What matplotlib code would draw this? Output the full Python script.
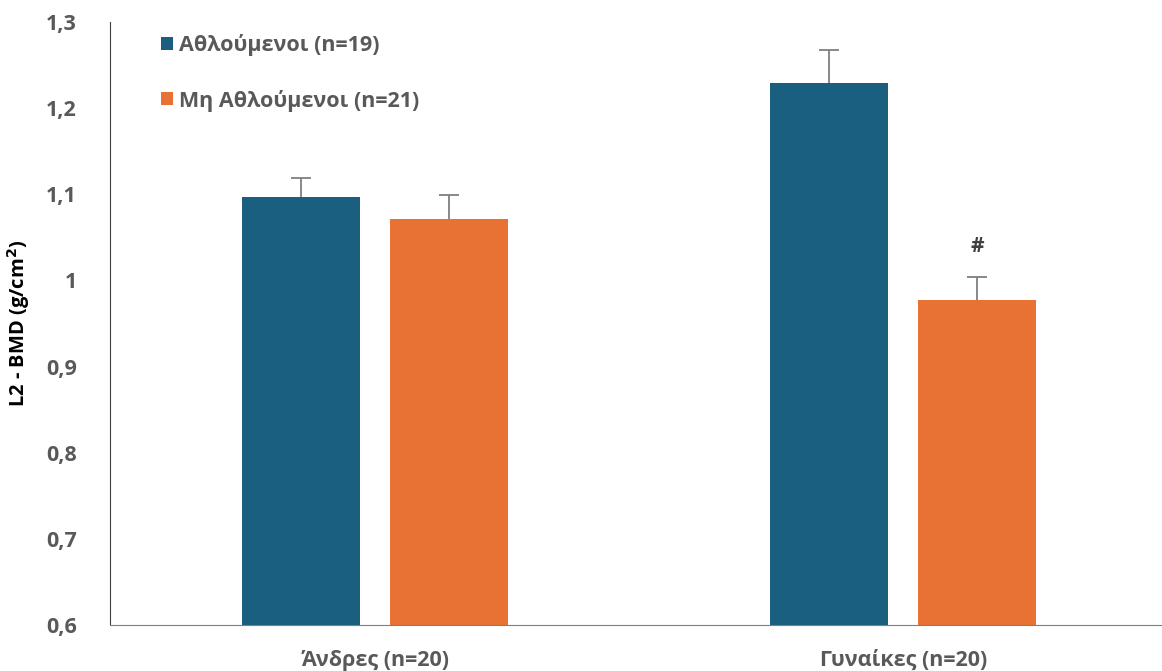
import matplotlib.pyplot as plt
import numpy as np

# BMD at L2, grouped by sex
categories = ["Άνδρες (n=20)", "Γυναίκες (n=20)"]
series_names = ["Αθλούμενοι (n=19)", "Μη Αθλούμενοι (n=21)"]
athletes = [1.097, 1.229]
athletes_err = [0.022, 0.038]
non_athletes = [1.071, 0.977]
non_athletes_err = [0.028, 0.027]
yticks = [0.6, 0.7, 0.8, 0.9, 1.0, 1.1, 1.2, 1.3]
ytick_labels = ["0,6", "0,7", "0,8", "0,9", "1", "1,1", "1,2", "1,3"]

blue = "#1a5e80"
orange = "#e87234"
text_grey = "#595959"
err_grey = "#7f7f7f"

plt.rcParams["font.family"] = ["Open Sans", "DejaVu Sans"]
plt.rcParams["font.weight"] = "bold"

fig = plt.figure(figsize=(11.62, 6.71), dpi=100)
ax = fig.add_axes([0.0947, 0.0686, 0.9053, 0.8986])

x = np.arange(len(categories))
w = 0.2235
off = 0.140


def bars_with_upper_err(xpos, vals, errs, color, label):
    ax.bar(xpos, vals, w, color=color, label=label, zorder=2)
    _, caps, _ = ax.errorbar(xpos, vals, yerr=[np.zeros(len(vals)), errs],
                             fmt="none", ecolor=err_grey, elinewidth=1.3,
                             capsize=7, capthick=1.3, zorder=3)
    # keep only the cap at the top of each whisker
    for c in caps:
        if np.allclose(c.get_ydata(), vals):
            c.set_visible(False)


bars_with_upper_err(x - off, athletes, athletes_err, blue, series_names[0])
bars_with_upper_err(x + off, non_athletes, non_athletes_err, orange, series_names[1])

# significance mark over the women's non-athlete bar
ax.text(x[1] + off, non_athletes[1] + non_athletes_err[1] + 0.035, "#",
        ha="center", va="center", fontsize=15, color="#404040")

ax.set_xlim(-0.502, 1.49)
ax.set_ylim(0.6, 1.3)
ax.set_xticks(x)
ax.set_xticklabels(categories, fontsize=15.5, color=text_grey)
ax.set_yticks(yticks)
ax.set_yticklabels(ytick_labels, fontsize=15.5, color=text_grey)
ax.tick_params(axis="x", length=0, pad=18)
ax.tick_params(axis="y", length=0, pad=24)
ax.set_ylabel("L2 - BMD (g/cm$^\\mathbf{2}$)", fontsize=14.5, color="black",
              fontweight="bold", labelpad=10)

for s in ["top", "right"]:
    ax.spines[s].set_visible(False)
ax.spines["left"].set_color("#404040")
ax.spines["bottom"].set_color("#7f7f7f")

leg = ax.legend(loc="upper left", bbox_to_anchor=(0.03, 1.012), frameon=False,
                fontsize=15.5, handlelength=0.55, handleheight=0.55,
                handletextpad=0.3, labelspacing=1.55)
for t in leg.get_texts():
    t.set_color(text_grey)

fig.savefig("out.png", dpi=100)
